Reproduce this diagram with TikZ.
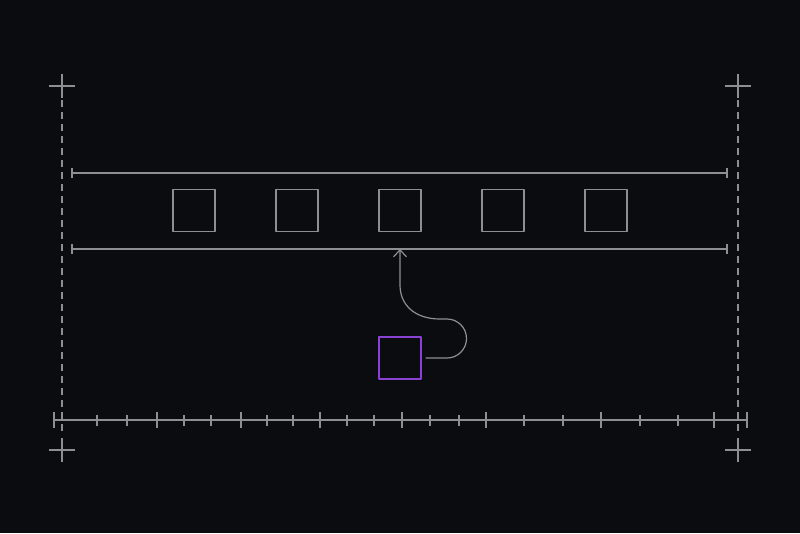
\documentclass[tikz,border=0pt]{standalone}
\usetikzlibrary{arrows.meta}
\definecolor{bg}{HTML}{0B0C10}
\definecolor{ln}{HTML}{8E8E94}
\definecolor{pu}{HTML}{8A42D4}
\begin{document}
\begin{tikzpicture}[x=1pt, y=-1pt, line width=1.2pt, color=ln, line join=round,
    >={Straight Barb[length=7pt,width=13pt]},
    box/.style={draw=ln, minimum size=42pt, inner sep=0pt},
    guide/.style={dash pattern=on 7pt off 5pt}]
  \def\xl{62} \def\xr{738}   % guide lines
  \def\ytop{173} \def\ybot{249}
  \useasboundingbox[fill=bg] (0,0) rectangle (800,533);
  % guides and crosses
  \foreach \x in {\xl,\xr}{
    \draw[guide] (\x,100) -- (\x,432);
    \foreach \y in {86,450}
      \draw (\x-13,\y) -- (\x+13,\y) (\x,\y-12) -- (\x,\y+12);
  }
  % track
  \foreach \y in {\ytop,\ybot}
    \draw (72,\y) -- (727,\y) (72,\y-5) -- (72,\y+5) (727,\y-5) -- (727,\y+5);
  \coordinate (hit) at (400,\ybot);
  \foreach \i/\x in {1/194,2/297,3/400,4/503,5/606}
    \node[box] (s\i) at (\x,210.5) {};
  \node[box, draw=pu] (new) at (400,358) {};
  \draw[->] ([xshift=4pt]new.east) -- (447,358) arc[start angle=90, end angle=-90, radius=19.5]
    -- (440,319) .. controls (416,319) and (400,306) .. (400,285) -- (hit);
  % ruler
  \draw (54,420) -- (747,420);
  \foreach \x in {54,157,241,320,402,486,601,714,747}
    \draw (\x,412) -- (\x,428);
  \foreach \x in {97,127,184,211,267,293,347,374,430,459,524,563,640,678}
    \draw (\x,415) -- (\x,426);
\end{tikzpicture}
\end{document}
